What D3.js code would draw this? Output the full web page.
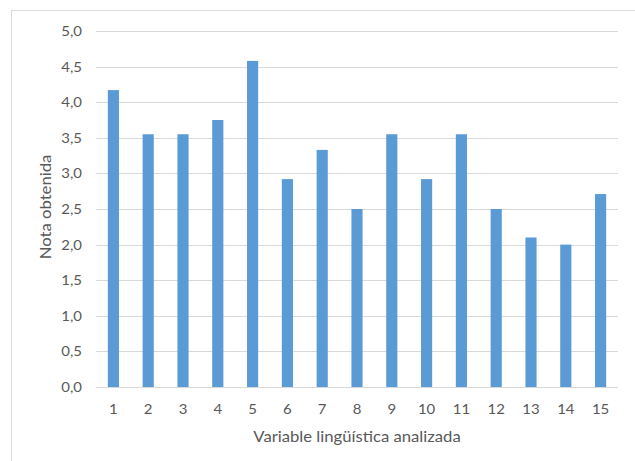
<!DOCTYPE html>
<html>
<head>
<meta charset="utf-8">
<script src="https://cdn.jsdelivr.net/npm/d3@7"></script>
<style>
  html, body { margin: 0; padding: 0; background: #fff; }
  svg { display: block; }
  text { font-family: Lato, "Open Sans", sans-serif; }
</style>
</head>
<body>
<svg id="chart" width="635" height="461"></svg>
<script>
const categories = ["1","2","3","4","5","6","7","8","9","10","11","12","13","14","15"];
const values = [4.17, 3.55, 3.55, 3.75, 4.58, 2.92, 3.33, 2.5, 3.55, 2.92, 3.55, 2.5, 2.1, 2.0, 2.71];
const yTicks = [0, 0.5, 1, 1.5, 2, 2.5, 3, 3.5, 4, 4.5, 5];
const xTitle = "Variable lingüística analizada";
const yTitle = "Nota obtenida";

const svg = d3.select("#chart");
const W = 635, H = 461;
const m = { left: 96, right: 17, top: 31, bottom: 74 };
const iw = W - m.left - m.right, ih = H - m.top - m.bottom;
const SX = 1.15;          // horizontal stretch of the glyphs in the reference
const textColor = "#595959";

// outer chart border
svg.append("rect").attr("x", 11.5).attr("y", 10.5).attr("width", 640).attr("height", 470)
  .attr("fill", "none").attr("stroke", "#d9d9d9").attr("stroke-width", 1);

const g = svg.append("g").attr("transform", `translate(${m.left},${m.top})`);

const x = d3.scaleBand().domain(categories).range([0, iw]).paddingInner(0.68).paddingOuter(0.34);
const y = d3.scaleLinear().domain([0, 5]).range([ih, 0]);

const fmt = d => d.toFixed(1).replace(".", ",");

// gridlines
g.append("g").selectAll("line").data(yTicks).join("line")
  .attr("x1", 0).attr("x2", iw)
  .attr("y1", d => Math.round(y(d)) + 0.5).attr("y2", d => Math.round(y(d)) + 0.5)
  .attr("stroke", "#d9d9d9").attr("stroke-width", 1);

// y axis
const ya = g.append("g").call(d3.axisLeft(y).tickValues(yTicks).tickFormat(fmt).tickSize(0).tickPadding(0));
ya.select(".domain").remove();
ya.selectAll(".tick text")
  .attr("x", 0).attr("dy", "0.35em")
  .attr("transform", `translate(-14,0) scale(${SX},1)`)
  .attr("fill", textColor).style("font-size", "13px");

// bars
g.append("g").selectAll("rect").data(values).join("rect")
  .attr("x", (d, i) => x(categories[i]))
  .attr("y", d => y(d))
  .attr("width", x.bandwidth())
  .attr("height", d => ih - y(d))
  .attr("fill", "#5b9bd5");

// x axis
const xa = g.append("g").attr("transform", `translate(0,${ih})`)
  .call(d3.axisBottom(x).tickSize(0).tickPadding(0));
xa.select(".domain").remove();
xa.selectAll(".tick text")
  .attr("y", 0).attr("dy", 0)
  .attr("transform", `translate(0,27) scale(${SX},1)`)
  .attr("fill", textColor).style("font-size", "13px");

// titles
svg.append("text")
  .attr("transform", `translate(${m.left + iw / 2},442) scale(${SX},1)`)
  .attr("text-anchor", "middle").attr("fill", textColor).style("font-size", "14.5px").text(xTitle);
svg.append("text")
  .attr("transform", `translate(51,${m.top + ih / 2 - 2}) rotate(-90) scale(${SX},1)`)
  .attr("text-anchor", "middle").attr("fill", textColor).style("font-size", "14.5px").text(yTitle);
</script>
</body>
</html>
